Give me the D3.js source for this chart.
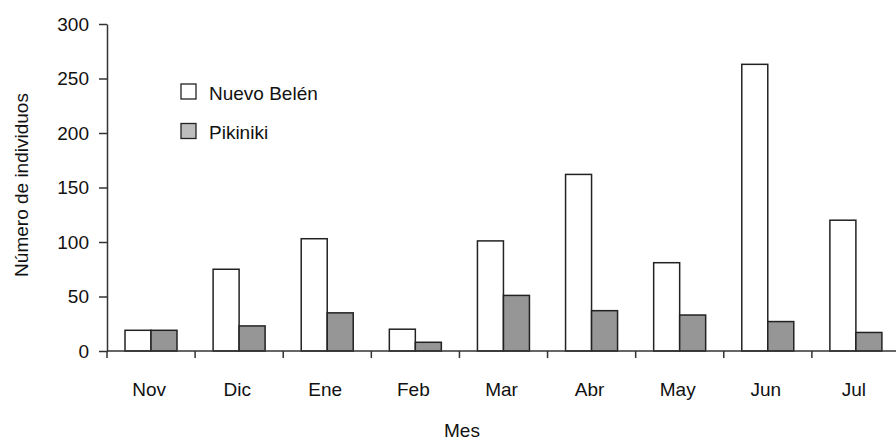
<!DOCTYPE html>
<html><head><meta charset="utf-8">
<script src="https://cdn.jsdelivr.net/npm/d3@7"></script>
<style>
body{margin:0;background:#fff;}
text{font-family:"Liberation Sans",Arial,sans-serif;fill:#111;}
</style></head>
<body><svg id="c" width="896" height="441"></svg>
<script>
const months = ["Nov","Dic","Ene","Feb","Mar","Abr","May","Jun","Jul"];
const nuevoBelen = [19,75,103,20,101,162,81,263,120];
const pikiniki = [19,23,35,8,51,37,33,27,17];
const seriesNames = ["Nuevo Belén","Pikiniki"];
const yTicks = [0,50,100,150,200,250,300];

(function(){
const svg = d3.select("#c");
const mLeft = 107, mRight = 900, mTop = 24, mBottom = 351;
const FS = 19;

const x = d3.scaleBand().domain(months).range([mLeft,mRight]).padding(0);
const xi = d3.scaleBand().domain(seriesNames).range([18, 70]).padding(0);
const y = d3.scaleLinear().domain([0,300]).range([mBottom,mTop]);

const data = months.map((m,i)=>({m, vals:[{s:"Nuevo Belén",v:nuevoBelen[i]},{s:"Pikiniki",v:pikiniki[i]}]}));
const fills = {"Nuevo Belén":"#ffffff","Pikiniki":"#969696"};

const g = svg.append("g");
g.selectAll("g.grp").data(data).join("g").attr("class","grp")
 .attr("transform",d=>`translate(${x(d.m)},0)`)
 .selectAll("rect").data(d=>d.vals).join("rect")
 .attr("x",d=>xi(d.s)).attr("width",xi.bandwidth())
 .attr("y",d=>y(d.v)).attr("height",d=>mBottom-y(d.v))
 .attr("fill",d=>fills[d.s]).attr("stroke","#222").attr("stroke-width",1.5);

// y axis
const ya = svg.append("g").attr("transform",`translate(${mLeft},0)`)
 .call(d3.axisLeft(y).tickValues(yTicks).tickSize(8).tickPadding(10).tickSizeOuter(0));
ya.attr("font-family",null).attr("font-size",null);
ya.select(".domain").attr("stroke","#333").attr("stroke-width",1.5);
ya.selectAll(".tick line").attr("stroke","#333").attr("stroke-width",1.5);
ya.selectAll(".tick text").style("font-size",FS+"px").attr("fill","#111");

// x axis
const xb = d3.scaleLinear().domain([0,months.length]).range([mLeft,mRight]);
svg.append("line").attr("x1",mLeft).attr("x2",896).attr("y1",mBottom).attr("y2",mBottom)
 .attr("stroke","#333").attr("stroke-width",1.5);
svg.append("g").selectAll("line").data(d3.range(months.length)).join("line")
 .attr("x1",i=>xb(i)).attr("x2",i=>xb(i)).attr("y1",mBottom).attr("y2",mBottom+7)
 .attr("stroke","#333").attr("stroke-width",1.5);
svg.append("g").selectAll("text").data(months).join("text")
 .attr("x",d=>x(d)+x.bandwidth()/2-2).attr("y",396).attr("text-anchor","middle")
 .style("font-size",FS+"px").text(d=>d);

svg.append("text").attr("x",462).attr("y",437).attr("text-anchor","middle")
 .style("font-size",FS+"px").text("Mes");
svg.append("text").attr("transform",`translate(28,185) rotate(-90)`).attr("text-anchor","middle")
 .style("font-size",FS+"px").text("Número de individuos");

// legend
const legFill = {"Nuevo Belén":"#ffffff","Pikiniki":"#bdbdbd"};
const lg = svg.append("g").selectAll("g").data(seriesNames).join("g")
 .attr("transform",(d,i)=>`translate(181,${84+i*39.5})`);
lg.append("rect").attr("width",15).attr("height",15).attr("fill",d=>legFill[d])
 .attr("stroke","#222").attr("stroke-width",1.3);
lg.append("text").attr("x",28).attr("y",15.5).style("font-size",FS+"px").text(d=>d);
})();
</script></body></html>
